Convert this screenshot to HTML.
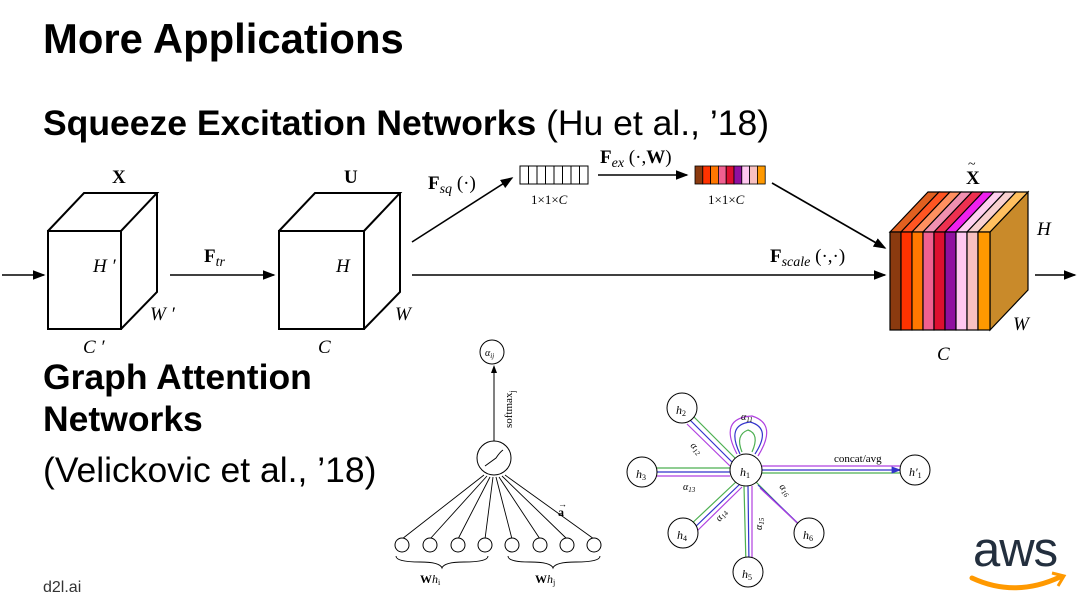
<!DOCTYPE html>
<html><head><meta charset="utf-8"><style>
html,body{margin:0;padding:0;background:#fff;}
body{width:1080px;height:604px;overflow:hidden;position:relative;font-family:"Liberation Sans",sans-serif;}
.t{position:absolute;color:#000;white-space:nowrap;line-height:1;}
</style></head><body>
<div class="t" style="left:43px;top:18px;font-size:41.8px;font-weight:bold;">More Applications</div>
<div class="t" style="left:43px;top:106px;font-size:35.5px;"><b>Squeeze Excitation Networks</b> (Hu et al., ’18)</div>
<div class="t" style="left:43px;top:360px;font-size:35.5px;font-weight:bold;">Graph Attention</div>
<div class="t" style="left:43px;top:402px;font-size:35.5px;font-weight:bold;">Networks</div>
<div class="t" style="left:43px;top:453px;font-size:35.5px;">(Velickovic et al., ’18)</div>
<div class="t" style="left:43px;top:580px;font-size:16px;color:#333;">d2l.ai</div>
<div class="t" style="left:973px;top:526px;font-size:49px;color:#232f3e;letter-spacing:-1px;">aws</div>
<svg style="position:absolute;left:0;top:0" width="1080" height="604">
<defs><marker id="ar" markerWidth="8" markerHeight="6" refX="7" refY="3" orient="auto"><path d="M0,0 L8,3 L0,6z" fill="#000"/></marker>
<marker id="ab" markerWidth="8" markerHeight="6" refX="7" refY="3" orient="auto"><path d="M0,0 L8,3 L0,6z" fill="#3333cc"/></marker></defs>
<path d="M972,578 Q1015,598 1060,577" stroke="#f90" stroke-width="5" fill="none" stroke-linecap="round"/>
<path d="M1052,573 L1064,576 L1058,586" stroke="#f90" stroke-width="3" fill="none"/>
<g stroke="#000" stroke-width="2" fill="none">
<rect x="48" y="231" width="73" height="98"/><path d="M48,231 L84,193 L157,193 L121,231 M157,193 L157,292 L121,329"/>
<rect x="279" y="231" width="85" height="98"/><path d="M279,231 L315,193 L400,193 L364,231 M400,193 L400,292 L364,329"/>
</g>
<g stroke="#000" stroke-width="1.6" fill="none">
<line x1="2" y1="275" x2="44" y2="275" marker-end="url(#ar)"/>
<line x1="170" y1="275" x2="274" y2="275" marker-end="url(#ar)"/>
<line x1="412" y1="242" x2="512" y2="178" marker-end="url(#ar)"/>
<line x1="412" y1="275" x2="885" y2="275" marker-end="url(#ar)"/>
<line x1="598" y1="175" x2="687" y2="175" marker-end="url(#ar)"/>
<line x1="772" y1="183" x2="885" y2="248" marker-end="url(#ar)"/>
<line x1="1035" y1="275" x2="1075" y2="275" marker-end="url(#ar)"/>
</g>
<g stroke="#000" stroke-width="1" fill="#fff">
<rect x="520" y="166" width="68" height="18"/>
<path d="M528.5,166v18M537,166v18M545.5,166v18M554,166v18M562.5,166v18M571,166v18M579.5,166v18"/>
</g>
<g stroke="#000" stroke-width="0.8">
<rect x="695" y="166" width="7.8" height="18" fill="#8b3a0f"/><rect x="702.8" y="166" width="7.8" height="18" fill="#ff3300"/><rect x="710.6" y="166" width="7.8" height="18" fill="#ff7700"/><rect x="718.4" y="166" width="7.8" height="18" fill="#f06090"/><rect x="726.2" y="166" width="7.8" height="18" fill="#dd1030"/><rect x="734" y="166" width="7.8" height="18" fill="#9010a0"/><rect x="741.8" y="166" width="7.8" height="18" fill="#ffc8f0"/><rect x="749.6" y="166" width="7.8" height="18" fill="#f8c0c0"/><rect x="757.4" y="166" width="7.8" height="18" fill="#ff9900"/>
</g>
<g stroke="#000" stroke-width="1.2">
<path d="M990,232 L1028,192 L1028,290 L990,330z" fill="#c98a2a"/>
<path d="M890,232 L928,192 L939,192 L901,232z" fill="#e06020"/><path d="M901,232 L939,192 L950,192 L912,232z" fill="#ff5522"/><path d="M912,232 L950,192 L961,192 L923,232z" fill="#ff9060"/><path d="M923,232 L961,192 L972,192 L934,232z" fill="#f090b0"/><path d="M934,232 L972,192 L983,192 L945,232z" fill="#ee3050"/><path d="M945,232 L983,192 L994,192 L956,232z" fill="#ee20ee"/><path d="M956,232 L994,192 L1005,192 L967,232z" fill="#ffd0f0"/><path d="M967,232 L1005,192 L1016,192 L978,232z" fill="#f8d0d0"/><path d="M978,232 L1016,192 L1028,192 L990,232z" fill="#ffc060"/>
<rect x="890" y="232" width="11" height="98" fill="#8b3a0f"/><rect x="901" y="232" width="11" height="98" fill="#ff3300"/><rect x="912" y="232" width="11" height="98" fill="#ff7700"/><rect x="923" y="232" width="11" height="98" fill="#f06090"/><rect x="934" y="232" width="11" height="98" fill="#dd1030"/><rect x="945" y="232" width="11" height="98" fill="#9010a0"/><rect x="956" y="232" width="11" height="98" fill="#ffc8f0"/><rect x="967" y="232" width="11" height="98" fill="#f8c0c0"/><rect x="978" y="232" width="12" height="98" fill="#ff9900"/>
</g>
<g font-family="Liberation Serif,serif" font-size="19" fill="#000">
<text x="112" y="183" font-weight="bold">X</text>
<text x="93" y="272" font-style="italic">H ′</text>
<text x="150" y="320" font-style="italic">W ′</text>
<text x="83" y="353" font-style="italic">C ′</text>
<text x="204" y="262"><tspan font-weight="bold">F</tspan><tspan font-style="italic" font-size="14" dy="4">tr</tspan></text>
<text x="344" y="183" font-weight="bold">U</text>
<text x="336" y="272" font-style="italic">H</text>
<text x="395" y="320" font-style="italic">W</text>
<text x="318" y="353" font-style="italic">C</text>
<text x="428" y="189"><tspan font-weight="bold">F</tspan><tspan font-style="italic" font-size="14" dy="4">sq</tspan><tspan dy="-4"> (·)</tspan></text>
<text x="531" y="204" font-size="13">1×1×<tspan font-style="italic">C</tspan></text>
<text x="600" y="163"><tspan font-weight="bold">F</tspan><tspan font-style="italic" font-size="14" dy="4">ex</tspan><tspan dy="-4"> (·,</tspan><tspan font-weight="bold">W</tspan>)</text>
<text x="708" y="204" font-size="13">1×1×<tspan font-style="italic">C</tspan></text>
<text x="770" y="262"><tspan font-weight="bold">F</tspan><tspan font-style="italic" font-size="14" dy="4">scale</tspan><tspan dy="-4"> (·,·)</tspan></text>
<text x="966" y="184" font-weight="bold">X</text><text x="968" y="168" font-size="14">~</text>
<text x="1037" y="235" font-style="italic">H</text>
<text x="1013" y="330" font-style="italic">W</text>
<text x="937" y="360" font-style="italic">C</text>
</g>
<g stroke="#000" stroke-width="1" fill="#fff">
<circle cx="492" cy="352" r="12"/>
<circle cx="494" cy="458" r="17"/>
<line x1="494" y1="441" x2="494" y2="366" marker-end="url(#ar)"/>
<path d="M485,466 L496,458 Q500,452 503,450" fill="none"/>
</g>
<g stroke="#000" stroke-width="0.9" fill="none">
<path d="M402,539L484,475M430,539L487,476M458,539L490,477M485,539L493,477M512,539L496,477M540,539L499,477M567,539L502,476M594,539L505,475"/>
<path d="M396,556 Q396,562 420,562 Q440,562 442,568 Q444,562 464,562 Q488,562 488,556"/>
<path d="M508,556 Q508,562 530,562 Q551,562 553,568 Q555,562 576,562 Q600,562 600,556"/>
</g>
<g stroke="#000" stroke-width="1" fill="#fff">
<circle cx="402" cy="545" r="7"/><circle cx="430" cy="545" r="7"/><circle cx="458" cy="545" r="7"/><circle cx="485" cy="545" r="7"/><circle cx="512" cy="545" r="7"/><circle cx="540" cy="545" r="7"/><circle cx="567" cy="545" r="7"/><circle cx="594" cy="545" r="7"/>
</g>
<g font-family="Liberation Serif,serif" fill="#000">
<text x="485" y="356" font-size="10" font-style="italic">α<tspan font-size="7" dy="2">ij</tspan></text>
<text transform="translate(512,428) rotate(-90)" font-size="11">softmax<tspan font-size="8" dy="3">j</tspan></text>
<text x="558" y="516" font-size="12" font-weight="bold">a</text><text x="558" y="507" font-size="9">→</text>
<text x="420" y="583" font-size="12"><tspan font-weight="bold">W</tspan><tspan font-style="italic">h</tspan><tspan font-size="8" dy="2">i</tspan></text>
<text x="535" y="583" font-size="12"><tspan font-weight="bold">W</tspan><tspan font-style="italic">h</tspan><tspan font-size="8" dy="2">j</tspan></text>
</g>
<g fill="none" stroke-width="1.2">
<g stroke="#4caf50"><path d="M693,416L737,460M642,468L730,468M688,527L738,480M746,565L744,486M801,527L756,482M760,473L900,473"/><path d="M742,452 Q735,435 748,430 Q760,434 752,452"/></g>
<g stroke="#3333cc"><path d="M690,420L733,463M642,472L730,472M692,530L740,484M749,565L748,486M804,529L758,485M762,470L900,470" marker-end="url(#ab)"/><path d="M740,454 Q726,425 750,422 Q772,428 755,454"/></g>
<g stroke="#b040e0"><path d="M687,424L730,466M642,476L730,476M695,533L742,487M752,565L752,486M807,532L760,488M762,466L900,466"/><path d="M737,454 Q718,418 752,416 Q778,424 758,456"/></g>
</g>
<g stroke="#000" stroke-width="1" fill="#fff">
<circle cx="746" cy="470" r="16"/><circle cx="682" cy="408" r="15"/><circle cx="642" cy="472" r="15"/><circle cx="683" cy="533" r="15"/><circle cx="748" cy="572" r="15"/><circle cx="809" cy="533" r="15"/><circle cx="915" cy="470" r="15"/>
</g>
<g font-family="Liberation Serif,serif" fill="#000" font-style="italic" font-size="12">
<text x="740" y="476">h<tspan font-size="8" dy="2" font-style="normal">1</tspan></text>
<text x="676" y="414">h<tspan font-size="8" dy="2" font-style="normal">2</tspan></text>
<text x="636" y="478">h<tspan font-size="8" dy="2" font-style="normal">3</tspan></text>
<text x="677" y="539">h<tspan font-size="8" dy="2" font-style="normal">4</tspan></text>
<text x="742" y="578">h<tspan font-size="8" dy="2" font-style="normal">5</tspan></text>
<text x="803" y="539">h<tspan font-size="8" dy="2" font-style="normal">6</tspan></text>
<text x="909" y="476">h′<tspan font-size="8" dy="2" font-style="normal">1</tspan></text>
<text x="834" y="462" font-style="normal" font-size="11">concat/avg</text>
<text x="741" y="420" font-size="10">α<tspan font-size="7" dy="2">11</tspan></text>
<text x="683" y="490" font-size="10">α<tspan font-size="7" dy="2">13</tspan></text>
<text transform="translate(690,446) rotate(45)" font-size="10">α<tspan font-size="7" dy="2">12</tspan></text>
<text transform="translate(720,522) rotate(-55)" font-size="10">α<tspan font-size="7" dy="2">14</tspan></text>
<text transform="translate(762,530) rotate(-90)" font-size="10">α<tspan font-size="7" dy="2">15</tspan></text>
<text transform="translate(779,487) rotate(50)" font-size="10">α<tspan font-size="7" dy="2">16</tspan></text>
</g>
</svg>
</body></html>
